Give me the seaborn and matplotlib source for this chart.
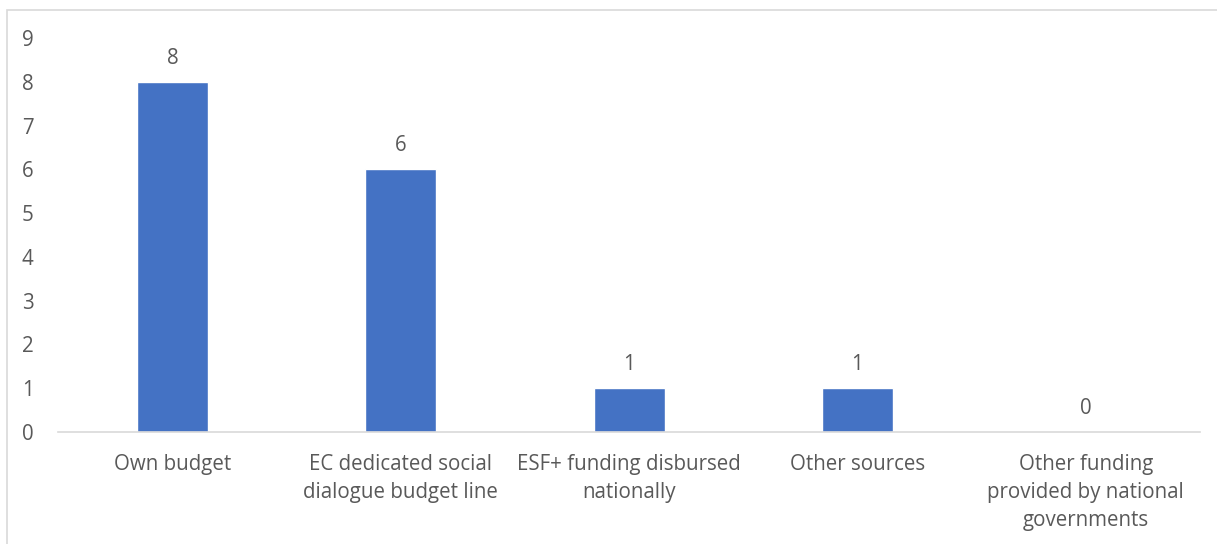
import matplotlib
matplotlib.use("Agg")
import matplotlib.pyplot as plt
import pandas as pd
import seaborn as sns
from matplotlib.patches import Rectangle

categories = [
    "Own budget",
    "EC dedicated social\ndialogue budget line",
    "ESF+ funding disbursed\nnationally",
    "Other sources",
    "Other funding\nprovided by national\ngovernments",
]
counts = [8, 6, 1, 1, 0]

df = pd.DataFrame({"source": categories, "count": counts})

sns.set_theme(style="white")
plt.rcParams['font.family'] = ['Open Sans', 'DejaVu Sans']
text_col = "#595959"
fs = 14.8

fig = plt.figure(figsize=(12.17, 5.44), dpi=100)
ax = fig.add_axes([0.048, 0.206, 0.938, 0.724])

sns.barplot(data=df, x="source", y="count", color="#4472C4", width=0.31,
            saturation=1, ax=ax)

for i, v in enumerate(counts):
    ax.text(i, v + 0.3, str(v), ha="center", va="bottom", fontsize=fs, color=text_col)

ax.set_ylim(0, 9)
ax.set_yticks(range(0, 10))
ax.set_xlim(-0.5, len(categories) - 0.5)
ax.set_xlabel("")
ax.set_ylabel("")
ax.tick_params(axis="both", length=0, labelsize=fs, labelcolor=text_col)
ax.tick_params(axis="y", pad=18)
ax.tick_params(axis="x", pad=16)
for lbl in ax.get_xticklabels():
    lbl.set_linespacing(1.42)
for s in ["top", "right", "left"]:
    ax.spines[s].set_visible(False)
ax.spines["bottom"].set_color("#d9d9d9")
ax.spines["bottom"].set_linewidth(1.2)

# outer chart border
fig.patches.append(Rectangle((7 / 1217, -0.01), 1.02, 1 - 10 / 544 + 0.01,
                             transform=fig.transFigure, fill=False,
                             edgecolor="#d9d9d9", linewidth=1.2))

fig.savefig("out.png", dpi=100)
plt.close(fig)
